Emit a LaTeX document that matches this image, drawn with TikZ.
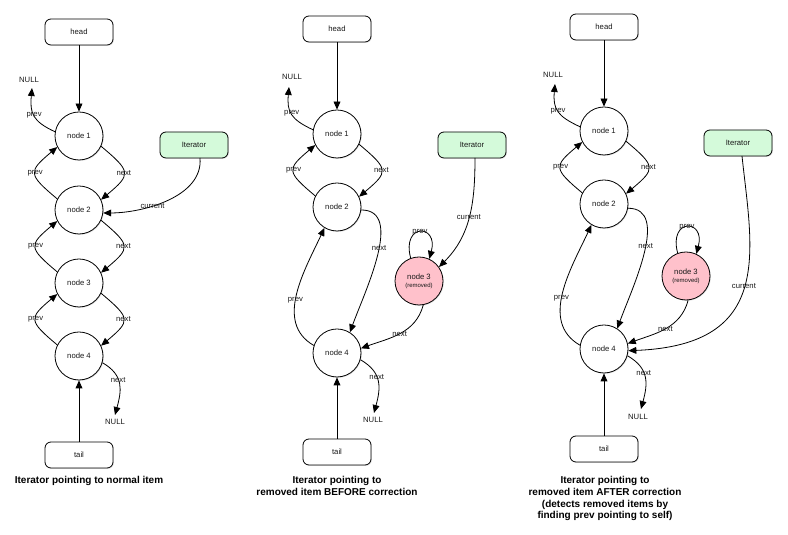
\documentclass[tikz,border=0pt]{standalone}
\usepackage{fontspec}
\setmainfont{Liberation Sans}
\usetikzlibrary{arrows.meta,shadows}
\definecolor{itergreen}{RGB}{212,250,218}
\definecolor{rempink}{RGB}{255,193,203}
\definecolor{ink}{RGB}{25,25,25}
\tikzset{
  shd/.style={drop shadow={shadow xshift=0.9pt,shadow yshift=-0.9pt,opacity=0.22}},
  nd/.style={circle,draw=black,line width=0.8pt,fill=white,minimum size=48pt,inner sep=0pt,
    font=\fontsize{7.7}{9}\selectfont,text=ink,shd},
  remnd/.style={nd,fill=rempink,align=center},
  box/.style={rectangle,rounded corners=6pt,draw=black,line width=0.8pt,fill=white,
    minimum width=68pt,minimum height=26pt,inner sep=0pt,font=\fontsize{7.7}{9}\selectfont,text=ink,shd},
  itr/.style={box,fill=itergreen},
  lbl/.style={font=\fontsize{7.7}{9}\selectfont,text=ink,inner sep=0pt},
  txt/.style={font=\fontsize{7.7}{9}\selectfont,text=ink,inner sep=0pt},
  captxt/.style={font=\fontsize{10}{11.8}\selectfont\bfseries,align=center,inner sep=0pt,anchor=north},
  arr/.style={draw=black,line width=0.8pt,-{Triangle[length=8pt,width=6.8pt]}},
}
\begin{document}
\begin{tikzpicture}[x=1pt,y=1pt]
\useasboundingbox (0,0) rectangle (788,535);
% ---------------- Panel 1 ----------------
\node[box] (h1) at (79,503) {head};
\node[nd] (a1) at (79,399) {node 1};
\node[nd] (a2) at (79,325) {node 2};
\node[nd] (a3) at (79,252) {node 3};
\node[nd] (a4) at (79,179) {node 4};
\node[itr] (i1) at (194,390) {Iterator};
\node[box] (t1) at (79,80) {tail};
\node[txt] (nu1) at (29,455) {NULL};
\coordinate (nu1t) at (32,447);
\node[txt] (nd1) at (115,113) {NULL};
\coordinate (nd1t) at (115,120);
\coordinate (i1s) at (200,377);
\node[captxt] (c1) at (89,59) {Iterator pointing to normal item};
\draw[arr] (h1) -- (a1);
\draw[arr] (t1) -- (a4);
\draw[arr] (a1.170) to[out=155,in=-95,looseness=1.3] node[lbl]{prev} (nu1t);
\draw[arr] (a1.-25) to[out=-40,in=40,looseness=1.9] node[lbl]{next} (a2.25);
\draw[arr] (a2.153) to[out=140,in=220,looseness=1.9] node[lbl]{prev} (a1.207);
\draw[arr] (a2.-25) to[out=-40,in=40,looseness=1.9] node[lbl]{next} (a3.25);
\draw[arr] (a3.153) to[out=140,in=220,looseness=1.9] node[lbl]{prev} (a2.207);
\draw[arr] (a3.-25) to[out=-40,in=40,looseness=1.9] node[lbl]{next} (a4.25);
\draw[arr] (a4.153) to[out=140,in=220,looseness=1.9] node[lbl]{prev} (a3.207);
\draw[arr] (a4.-16) to[out=-30,in=75,looseness=1.2] node[lbl,pos=0.4]{next} (nd1t);
\draw[arr] (i1s) to[out=-85,in=0,looseness=0.9] node[lbl,pos=0.62]{current} (a2.-7);
% ---------------- Panel 2 ----------------
\node[box] (h2) at (337,506) {head};
\node[nd] (b1) at (337,401) {node 1};
\node[nd] (b2) at (337,328) {node 2};
\node[remnd] (b3) at (419,254) {node 3\\[-1pt]{\fontsize{6}{7}\selectfont(removed)}};
\node[nd] (b4) at (337,182) {node 4};
\node[itr] (i2) at (472,390) {Iterator};
\node[box] (t2) at (337,83) {tail};
\node[txt] (nu2) at (292,458) {NULL};
\coordinate (nu2t) at (289,448);
\node[txt] (nd2) at (373,115) {NULL};
\coordinate (nd2t) at (374,122);
\coordinate (i2s) at (475,377);
\node[captxt] (c2) at (337,59) {Iterator pointing to\\removed item BEFORE correction};
\draw[arr] (h2) -- (b1);
\draw[arr] (t2) -- (b4);
\draw[arr] (b1.170) to[out=155,in=-95,looseness=1.3] node[lbl]{prev} (nu2t);
\draw[arr] (b1.-25) to[out=-40,in=40,looseness=1.9] node[lbl]{next} (b2.25);
\draw[arr] (b2.153) to[out=140,in=220,looseness=1.9] node[lbl]{prev} (b1.207);
\draw[arr] (b2.-7) to[out=0,in=70,looseness=0.9] node[lbl,pos=0.45]{next} (b4.58);
\draw[arr] (b4.162) to[out=150,in=245,looseness=1.0] node[lbl,pos=0.45]{prev} (b2.239);
\draw[arr] (b3.110) to[out=105,in=75,looseness=5] node[lbl]{prev} (b3.65);
\draw[arr] (i2s) to[out=-90,in=45] node[lbl,pos=0.5]{current} (b3.35);
\draw[arr] (b3.-80) to[out=-105,in=20] node[lbl]{next} (b4.11);
\draw[arr] (b4.-16) to[out=-30,in=75,looseness=1.2] node[lbl,pos=0.4]{next} (nd2t);
% ---------------- Panel 3 ----------------
\node[box] (h3) at (604,508) {head};
\node[nd] (d1) at (604,404) {node 1};
\node[nd] (d2) at (604,331) {node 2};
\node[remnd] (d3) at (686,259) {node 3\\[-1pt]{\fontsize{6}{7}\selectfont(removed)}};
\node[nd] (d4) at (604,186) {node 4};
\node[itr] (i3) at (738,392) {Iterator};
\node[box] (t3) at (604,86) {tail};
\node[txt] (nu3) at (553,460) {NULL};
\coordinate (nu3t) at (555,451);
\node[txt] (nd3) at (638,118) {NULL};
\coordinate (nd3t) at (641,126);
\coordinate (i3s) at (742,379);
\node[captxt] (c3) at (605,59) {Iterator pointing to\\removed item AFTER correction\\(detects removed items by\\finding prev pointing to self)};
\draw[arr] (h3) -- (d1);
\draw[arr] (t3) -- (d4);
\draw[arr] (d1.170) to[out=155,in=-95,looseness=1.3] node[lbl]{prev} (nu3t);
\draw[arr] (d1.-25) to[out=-40,in=40,looseness=1.9] node[lbl]{next} (d2.25);
\draw[arr] (d2.153) to[out=140,in=220,looseness=1.9] node[lbl]{prev} (d1.207);
\draw[arr] (d2.-10) to[out=0,in=70,looseness=0.9] node[lbl,pos=0.45]{next} (d4.57);
\draw[arr] (d4.171) to[out=150,in=245,looseness=1.0] node[lbl,pos=0.45]{prev} (d2.239);
\draw[arr] (d3.110) to[out=105,in=75,looseness=5] node[lbl]{prev} (d3.65);
\draw[arr] (d3.-85) to[out=-105,in=20] node[lbl]{next} (d4.13);
\draw[arr] (i3s) .. controls (752,285) and (775,190) .. (d4.-4) node[lbl,pos=0.5]{current};
\draw[arr] (d4.-16) to[out=-30,in=75,looseness=1.2] node[lbl,pos=0.4]{next} (nd3t);
\end{tikzpicture}
\end{document}
